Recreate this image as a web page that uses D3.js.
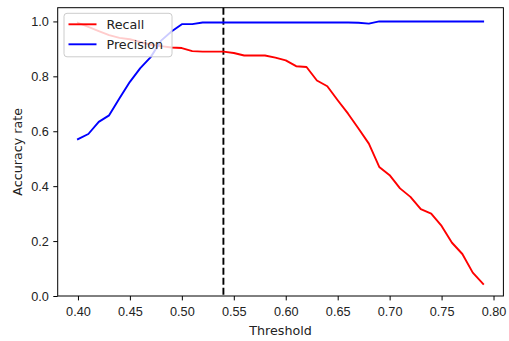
<!DOCTYPE html>
<html>
<head>
<meta charset="utf-8">
<script src="https://cdn.jsdelivr.net/npm/d3@7"></script>
<style>
    body { margin: 0; background: #fff; }
    svg { display: block; font-family: "DejaVu Sans", sans-serif; }
    .tick text { font-size: 12.7px; fill: #222; }
    .axis-label { font-size: 12.7px; fill: #222; }
</style>
</head>
<body>
<div id="chart"></div>
<script>
const thresholds = [0.40, 0.41, 0.42, 0.43, 0.44, 0.45, 0.46, 0.47, 0.48, 0.49,
    0.50, 0.51, 0.52, 0.53, 0.54, 0.55, 0.56, 0.57, 0.58, 0.59,
    0.60, 0.61, 0.62, 0.63, 0.64, 0.65, 0.66, 0.67, 0.68, 0.69,
    0.70, 0.71, 0.72, 0.73, 0.74, 0.75, 0.76, 0.77, 0.78, 0.79];
const recall = [0.995, 0.98, 0.965, 0.95, 0.94, 0.935, 0.925, 0.915, 0.91, 0.905,
    0.903, 0.892, 0.89, 0.89, 0.89, 0.885, 0.876, 0.876, 0.876, 0.868,
    0.858, 0.837, 0.834, 0.785, 0.764, 0.713, 0.664, 0.61, 0.555, 0.47,
    0.44, 0.392, 0.361, 0.316, 0.30, 0.255, 0.194, 0.153, 0.085, 0.044];
const precision = [0.571, 0.59, 0.634, 0.658, 0.72, 0.78, 0.83, 0.87, 0.93, 0.963,
    0.99, 0.99, 0.996, 0.996, 0.996, 0.996, 0.996, 0.996, 0.996, 0.996,
    0.996, 0.996, 0.996, 0.996, 0.996, 0.996, 0.996, 0.995, 0.992, 1.0,
    1.0, 1.0, 1.0, 1.0, 1.0, 1.0, 1.0, 1.0, 1.0, 1.0];
const xTicks = [0.40, 0.45, 0.50, 0.55, 0.60, 0.65, 0.70, 0.75, 0.80];
const yTicks = [0.0, 0.2, 0.4, 0.6, 0.8, 1.0];
const cutoff = 0.54;
const seriesNames = ["Recall", "Precision"];
const seriesColors = ["#ff0000", "#0000ff"];

const width = 509, height = 341;
const margin = {top: 7.7, right: 5.6, bottom: 45, left: 57.7};
const innerWidth = width - margin.left - margin.right;
const innerHeight = height - margin.top - margin.bottom;

const svg = d3.select("#chart")
    .append("svg")
    .attr("width", width)
    .attr("height", height);

const inner = svg.append("g")
    .attr("transform", `translate(${margin.left}, ${margin.top})`);

// matplotlib-style 5% padding on x
const span = d3.max(thresholds) - d3.min(thresholds);
const xScale = d3.scaleLinear()
    .domain([d3.min(thresholds) - span * 0.05, d3.max(thresholds) + span * 0.05])
    .range([0, innerWidth]);
const yScale = d3.scaleLinear()
    .domain([0, 1.05])
    .range([innerHeight, 0]);

// dashed threshold marker
inner.append("line")
    .attr("x1", xScale(cutoff))
    .attr("x2", xScale(cutoff))
    .attr("y1", 0)
    .attr("y2", innerHeight)
    .attr("stroke", "#000")
    .attr("stroke-width", 1.9)
    .attr("stroke-dasharray", "7,3");

const line = (values) => d3.line()
    .x((d, i) => xScale(thresholds[i]))
    .y(d => yScale(d))(values);

[recall, precision].forEach((values, k) => {
    inner.append("path")
        .attr("d", line(values))
        .attr("fill", "none")
        .attr("stroke", seriesColors[k])
        .attr("stroke-width", 1.9)
        .attr("stroke-linejoin", "round")
        .attr("stroke-linecap", "square");
});

// axes
const bottomAxis = d3.axisBottom(xScale)
    .tickValues(xTicks)
    .tickFormat(d3.format(".2f"))
    .tickSize(4.4)
    .tickPadding(4.5);
const xAxis = inner.append("g")
    .attr("transform", `translate(0, ${innerHeight})`)
    .call(bottomAxis);

const leftAxis = d3.axisLeft(yScale)
    .tickValues(yTicks)
    .tickFormat(d3.format(".1f"))
    .tickSize(4.4)
    .tickPadding(4.5);
const yAxis = inner.append("g").call(leftAxis);

[xAxis, yAxis].forEach(a => {
    a.select(".domain").remove();
    a.selectAll(".tick line").attr("stroke", "#000").attr("stroke-width", 1);
});
xAxis.selectAll(".tick text").attr("dy", "0.9em");

// frame
inner.append("rect")
    .attr("width", innerWidth)
    .attr("height", innerHeight)
    .attr("fill", "none")
    .attr("stroke", "#000")
    .attr("stroke-width", 1);

svg.append("text")
    .text("Threshold")
    .attr("class", "axis-label")
    .attr("text-anchor", "middle")
    .attr("x", margin.left + innerWidth / 2)
    .attr("y", 334.5);

svg.append("text")
    .text("Accuracy rate")
    .attr("class", "axis-label")
    .attr("text-anchor", "middle")
    .attr("transform", `translate(21.5, ${margin.top + innerHeight / 2}) rotate(-90)`);

// legend
const legend = svg.append("g")
    .attr("transform", "translate(64, 13.3)");
legend.append("rect")
    .attr("width", 108)
    .attr("height", 43.5)
    .attr("rx", 3)
    .attr("fill", "#fff")
    .attr("fill-opacity", 0.8)
    .attr("stroke", "#ccc")
    .attr("stroke-width", 1);

seriesNames.forEach((name, i) => {
    const g = legend.append("g").attr("transform", `translate(0, ${11 + i * 20})`);
    g.append("line")
        .attr("x1", 4.5)
        .attr("x2", 32.5)
        .attr("stroke", seriesColors[i])
        .attr("stroke-width", 1.9);
    g.append("text")
        .text(name)
        .attr("x", 42.5)
        .attr("y", 4.5)
        .attr("class", "axis-label");
});
</script>
</body>
</html>
